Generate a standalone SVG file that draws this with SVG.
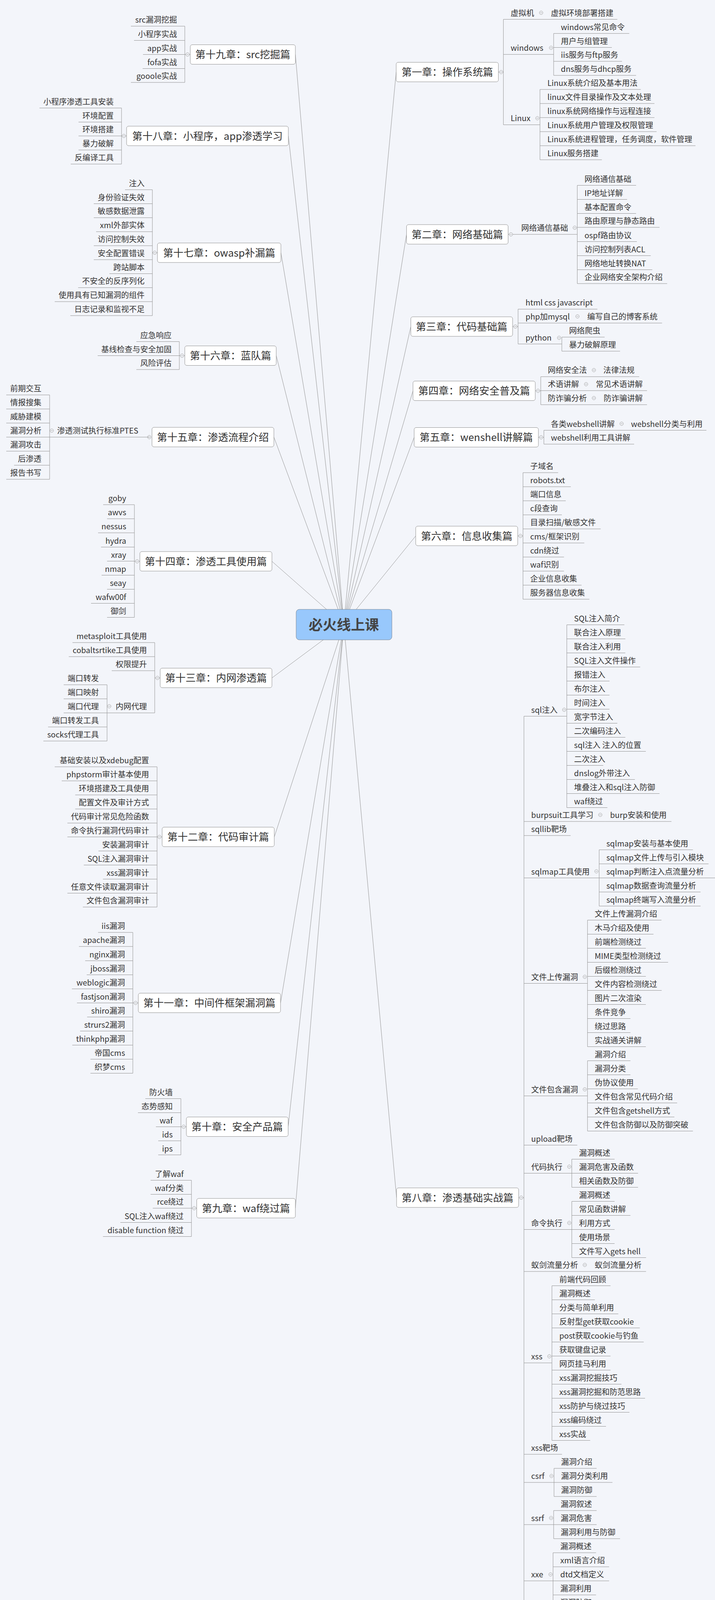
<svg xmlns="http://www.w3.org/2000/svg" width="1830" height="4423" viewBox="0 0 1830 4423">
<style>
.t{font-family:"Noto Sans CJK SC","Noto Sans",sans-serif;font-size:20px;fill:#333}
.e{text-anchor:end}
.u{stroke:#909090;stroke-width:1;fill:none}
.k{stroke:#939393;stroke-width:1;fill:none}
.b{fill:#fff;stroke:#8f8f8f;stroke-width:1}
.h{font-size:26px;text-anchor:middle}
.r{font-size:36px;font-weight:bold;fill:#444;text-anchor:middle}
</style>
<defs>
<g id="m"><circle r="4.5" fill="#f3f5fa" stroke="#a0a0a0"/><path d="M-2.5,0H2.5" stroke="#a0a0a0"/></g>
</defs>
<rect width="1830" height="4423" fill="#f3f5fa"/>
<g id="connectors" class="k">
<path d="M880,1599L756,139.5M880,1599L738,348M880,1599L719,647M880,1599L707,910.5M880,1599L701,1119M880,1599L696,1437M880,1599L696,1735.5M880,1599L702,2142.5M880,1599L718,2567.5M880,1599L737.5,2884.5M880,1599L756,3093M880,1599L1014,184.5M880,1599L1040.5,600M880,1599L1051.5,836M880,1599L1057,1000.5M880,1599L1060,1119.5M880,1599L1064,1372M880,1599L1015,3066"/>
<path d="M473,139.5H487M473,67V211M311,348H324M311,276.5V420M390,647H403M390,485.7V808M459,910.5H473M459,874.5V946M127,1011V1227M344,1437H358M344,1292V1580.5M396,1735.5H410M396,1645V1825M274,1753V1897M402,2142.5H415M402,1963V2322M340,2567.5H354M340,2387V2747.5M463,2884.5H477M463,2812.5V2956.5M490,3093H503.5M490,3021.5V3165.5"/>
<path d="M1275.6,184.5H1288.4M1288.4,49.5V319.4M1417,85.7V193M1382,229V409M1477.5,474.5V726M1312,836H1326M1326,791.4V880.6M1438,863V899M1370,1000.5H1384M1384,964.3V1036M1378,1119.5H1392M1392,1101.5V1137M1325,1372H1338.6M1338.6,1210V1534"/>
<path d="M1327.5,3066H1341M1341,1833.5V4299M1450.7,1599.5V2067.5M1533.5,2175.5V2319.5M1503.7,2355.5V2679.5M1503.7,2715.5V2895.5M1463.5,2967.5V3039.5M1463.5,3075.5V3219.5M1412.7,3291.5V3687.5M1418,3759V3831M1417,3867V3939M1415.5,3975V4119M1503.7,4191V4407"/>
</g>
<g id="root"><rect x="758" y="1560" width="245" height="78" rx="8" fill="#98c8fc" stroke="#7d8794"/><text class="t r" x="880" y="1613">必火线上课</text></g>

<g id="ch19"><rect class="b" x="487" y="114.5" width="269" height="50" rx="5"/><text class="t h" x="621.5" y="149">第十九章：src挖掘篇</text><use href="#m" x="480" y="139.5"/></g>
<g id="c19-1"><text class="t e" x="453" y="58">src漏洞挖掘</text><path class="u" d="M335,67H473"/></g>
<g id="c19-2"><text class="t e" x="453" y="94.5">小程序实战</text><path class="u" d="M343,103.5H473"/></g>
<g id="c19-3"><text class="t e" x="453" y="130.5">app实战</text><path class="u" d="M366,139.5H473"/></g>
<g id="c19-4"><text class="t e" x="453" y="166.5">fofa实战</text><path class="u" d="M365,175.5H473"/></g>
<g id="c19-5"><text class="t e" x="453" y="202">gooole实战</text><path class="u" d="M335,211H473"/></g>

<g id="ch18"><rect class="b" x="324" y="323" width="414" height="50" rx="5"/><text class="t h" x="531" y="357.5">第十八章：小程序，app渗透学习</text><use href="#m" x="317" y="348"/></g>
<g id="c18-1"><text class="t e" x="291" y="267.5">小程序渗透工具安装</text><path class="u" d="M101,276.5H311"/></g>
<g id="c18-2"><text class="t e" x="291" y="303.5">环境配置</text><path class="u" d="M201,312.5H311"/></g>
<g id="c18-3"><text class="t e" x="291" y="339">环境搭建</text><path class="u" d="M201,348H311"/></g>
<g id="c18-4"><text class="t e" x="291" y="375">暴力破解</text><path class="u" d="M201,384H311"/></g>
<g id="c18-5"><text class="t e" x="291" y="411">反编译工具</text><path class="u" d="M181,420H311"/></g>

<g id="ch17"><rect class="b" x="403" y="622" width="316" height="50" rx="5"/><text class="t h" x="561" y="656.5">第十七章：owasp补漏篇</text><use href="#m" x="396" y="647"/></g>
<g id="c17-1"><text class="t e" x="370" y="476.7">注入</text><path class="u" d="M320,485.7H390"/></g>
<g id="c17-2"><text class="t e" x="370" y="512.5">身份验证失效</text><path class="u" d="M240,521.5H390"/></g>
<g id="c17-3"><text class="t e" x="370" y="548.3">敏感数据泄露</text><path class="u" d="M240,557.3H390"/></g>
<g id="c17-4"><text class="t e" x="370" y="584.1">xml外部实体</text><path class="u" d="M246,593.1H390"/></g>
<g id="c17-5"><text class="t e" x="370" y="620">访问控制失效</text><path class="u" d="M240,629H390"/></g>
<g id="c17-6"><text class="t e" x="370" y="655.8">安全配置错误</text><path class="u" d="M240,664.8H390"/></g>
<g id="c17-7"><text class="t e" x="370" y="691.6">跨站脚本</text><path class="u" d="M280,700.6H390"/></g>
<g id="c17-8"><text class="t e" x="370" y="727.4">不安全的反序列化</text><path class="u" d="M200,736.4H390"/></g>
<g id="c17-9"><text class="t e" x="370" y="763.2">使用具有已知漏洞的组件</text><path class="u" d="M140,772.2H390"/></g>
<g id="c17-10"><text class="t e" x="370" y="799">日志记录和监视不足</text><path class="u" d="M180,808H390"/></g>

<g id="ch16"><rect class="b" x="473" y="885.5" width="234" height="50" rx="5"/><text class="t h" x="590" y="920">第十六章：蓝队篇</text><use href="#m" x="466" y="910.5"/></g>
<g id="c16-1"><text class="t e" x="439" y="865.5">应急响应</text><path class="u" d="M349,874.5H459"/></g>
<g id="c16-2"><text class="t e" x="439" y="901.5">基线检查与安全加固</text><path class="u" d="M250,910.5H459"/></g>
<g id="c16-3"><text class="t e" x="439" y="937">风险评估</text><path class="u" d="M349,946H459"/></g>

<g id="ch15"><rect class="b" x="389" y="1094" width="312" height="50" rx="5"/><text class="t h" x="545" y="1128.5">第十五章：渗透流程介绍</text><use href="#m" x="382" y="1119"/></g>
<g id="c15-1"><text class="t e" x="354" y="1110">渗透测试执行标准PTES</text><path class="u" d="M127,1119H382"/><use href="#m" x="132.5" y="1102.5"/></g>
<g id="c15-1-1"><text class="t e" x="106" y="1002">前期交互</text><path class="u" d="M16,1011H127"/></g>
<g id="c15-1-2"><text class="t e" x="106" y="1038">情报搜集</text><path class="u" d="M16,1047H127"/></g>
<g id="c15-1-3"><text class="t e" x="106" y="1074">威胁建模</text><path class="u" d="M16,1083H127"/></g>
<g id="c15-1-4"><text class="t e" x="106" y="1110">漏洞分析</text><path class="u" d="M16,1119H127"/></g>
<g id="c15-1-5"><text class="t e" x="106" y="1146">漏洞攻击</text><path class="u" d="M16,1155H127"/></g>
<g id="c15-1-6"><text class="t e" x="106" y="1182">后渗透</text><path class="u" d="M36,1191H127"/></g>
<g id="c15-1-7"><text class="t e" x="106" y="1218">报告书写</text><path class="u" d="M16,1227H127"/></g>

<g id="ch14"><rect class="b" x="358" y="1412" width="338" height="50" rx="5"/><text class="t h" x="527" y="1446.5">第十四章：渗透工具使用篇</text><use href="#m" x="351" y="1437"/></g>
<g id="c14-1"><text class="t e" x="323" y="1283">goby</text><path class="u" d="M264,1292H344"/></g>
<g id="c14-2"><text class="t e" x="323" y="1319">awvs</text><path class="u" d="M274,1328H344"/></g>
<g id="c14-3"><text class="t e" x="323" y="1355">nessus</text><path class="u" d="M251,1364H344"/></g>
<g id="c14-4"><text class="t e" x="323" y="1391.5">hydra</text><path class="u" d="M258.5,1400.5H344"/></g>
<g id="c14-5"><text class="t e" x="323" y="1427.5">xray</text><path class="u" d="M274,1436.5H344"/></g>
<g id="c14-6"><text class="t e" x="323" y="1463.5">nmap</text><path class="u" d="M260,1472.5H344"/></g>
<g id="c14-7"><text class="t e" x="323" y="1499.5">seay</text><path class="u" d="M274,1508.5H344"/></g>
<g id="c14-8"><text class="t e" x="323" y="1535.5">wafw00f</text><path class="u" d="M233,1544.5H344"/></g>
<g id="c14-9"><text class="t e" x="323" y="1571.5">御剑</text><path class="u" d="M274,1580.5H344"/></g>

<g id="ch13"><rect class="b" x="410" y="1710.5" width="286" height="50" rx="5"/><text class="t h" x="553" y="1745">第十三章：内网渗透篇</text><use href="#m" x="403" y="1735.5"/></g>
<g id="c13-1"><text class="t e" x="376" y="1636">metasploit工具使用</text><path class="u" d="M185.5,1645H396"/></g>
<g id="c13-2"><text class="t e" x="376" y="1672">cobaltsrtike工具使用</text><path class="u" d="M176,1681H396"/></g>
<g id="c13-3"><text class="t e" x="376" y="1708">权限提升</text><path class="u" d="M286,1717H396"/></g>
<g id="c13-4"><text class="t e" x="376" y="1816">内网代理</text><path class="u" d="M274,1825H396"/><use href="#m" x="279.5" y="1808"/></g>
<g id="c13-4-1"><text class="t e" x="253" y="1744">端口转发</text><path class="u" d="M163,1753H274"/></g>
<g id="c13-4-2"><text class="t e" x="253" y="1780">端口映射</text><path class="u" d="M163,1789H274"/></g>
<g id="c13-4-3"><text class="t e" x="253" y="1816">端口代理</text><path class="u" d="M163,1825H274"/></g>
<g id="c13-4-4"><text class="t e" x="253" y="1852">端口转发工具</text><path class="u" d="M123,1861H274"/></g>
<g id="c13-4-5"><text class="t e" x="253" y="1888">socks代理工具</text><path class="u" d="M111,1897H274"/></g>

<g id="ch12"><rect class="b" x="415" y="2117.5" width="287" height="50" rx="5"/><text class="t h" x="558.5" y="2152">第十二章：代码审计篇</text><use href="#m" x="408" y="2142.5"/></g>
<g id="c12-1"><text class="t e" x="381.5" y="1954">基础安装以及xdebug配置</text><path class="u" d="M140,1963H402"/></g>
<g id="c12-2"><text class="t e" x="381.5" y="1990">phpstorm审计基本使用</text><path class="u" d="M158,1999H402"/></g>
<g id="c12-3"><text class="t e" x="381.5" y="2026">环境搭建及工具使用</text><path class="u" d="M192.5,2035H402"/></g>
<g id="c12-4"><text class="t e" x="381.5" y="2062">配置文件及审计方式</text><path class="u" d="M192.5,2071H402"/></g>
<g id="c12-5"><text class="t e" x="381.5" y="2098">代码审计常见危险函数</text><path class="u" d="M172.5,2107H402"/></g>
<g id="c12-6"><text class="t e" x="381.5" y="2133.5">命令执行漏洞代码审计</text><path class="u" d="M172.5,2142.5H402"/></g>
<g id="c12-7"><text class="t e" x="381.5" y="2169.5">安装漏洞审计</text><path class="u" d="M252,2178.5H402"/></g>
<g id="c12-8"><text class="t e" x="381.5" y="2205.5">SQL注入漏洞审计</text><path class="u" d="M214.5,2214.5H402"/></g>
<g id="c12-9"><text class="t e" x="381.5" y="2241.5">xss漏洞审计</text><path class="u" d="M263.5,2250.5H402"/></g>
<g id="c12-10"><text class="t e" x="381.5" y="2277.5">任意文件读取漏洞审计</text><path class="u" d="M172.5,2286.5H402"/></g>
<g id="c12-11"><text class="t e" x="381.5" y="2313">文件包含漏洞审计</text><path class="u" d="M212,2322H402"/></g>

<g id="ch11"><rect class="b" x="354" y="2542.5" width="364" height="50" rx="5"/><text class="t h" x="536" y="2577">第十一章：中间件框架漏洞篇</text><use href="#m" x="347" y="2567.5"/></g>
<g id="c11-1"><text class="t e" x="320" y="2378">iis漏洞</text><path class="u" d="M251,2387H340"/></g>
<g id="c11-2"><text class="t e" x="320" y="2414">apache漏洞</text><path class="u" d="M202,2423H340"/></g>
<g id="c11-3"><text class="t e" x="320" y="2450.5">nginx漏洞</text><path class="u" d="M218,2459.5H340"/></g>
<g id="c11-4"><text class="t e" x="320" y="2486.5">jboss漏洞</text><path class="u" d="M222,2495.5H340"/></g>
<g id="c11-5"><text class="t e" x="320" y="2522.5">weblogic漏洞</text><path class="u" d="M184,2531.5H340"/></g>
<g id="c11-6"><text class="t e" x="320" y="2558.5">fastjson漏洞</text><path class="u" d="M197,2567.5H340"/></g>
<g id="c11-7"><text class="t e" x="320" y="2594.5">shiro漏洞</text><path class="u" d="M223,2603.5H340"/></g>
<g id="c11-8"><text class="t e" x="320" y="2630.5">strurs2漏洞</text><path class="u" d="M205,2639.5H340"/></g>
<g id="c11-9"><text class="t e" x="320" y="2666.5">thinkphp漏洞</text><path class="u" d="M185,2675.5H340"/></g>
<g id="c11-10"><text class="t e" x="320" y="2702.5">帝国cms</text><path class="u" d="M231.5,2711.5H340"/></g>
<g id="c11-11"><text class="t e" x="320" y="2738.5">织梦cms</text><path class="u" d="M231.5,2747.5H340"/></g>

<g id="ch10"><rect class="b" x="477" y="2859.5" width="260.5" height="50" rx="5"/><text class="t h" x="607" y="2894">第十章：安全产品篇</text><use href="#m" x="470" y="2884.5"/></g>
<g id="c10-1"><text class="t e" x="442" y="2803.5">防火墙</text><path class="u" d="M372,2812.5H463"/></g>
<g id="c10-2"><text class="t e" x="442" y="2839.5">态势感知</text><path class="u" d="M353,2848.5H463"/></g>
<g id="c10-3"><text class="t e" x="442" y="2875.5">waf</text><path class="u" d="M399,2884.5H463"/></g>
<g id="c10-4"><text class="t e" x="442" y="2911.5">ids</text><path class="u" d="M405,2920.5H463"/></g>
<g id="c10-5"><text class="t e" x="442" y="2947.5">ips</text><path class="u" d="M405,2956.5H463"/></g>

<g id="ch9"><rect class="b" x="503.5" y="3068" width="252.5" height="50" rx="5"/><text class="t h" x="629.5" y="3102.5">第九章：waf绕过篇</text><use href="#m" x="497" y="3093"/></g>
<g id="c9-1"><text class="t e" x="470" y="3012.5">了解waf</text><path class="u" d="M385.5,3021.5H490"/></g>
<g id="c9-2"><text class="t e" x="470" y="3048.5">waf分类</text><path class="u" d="M385.5,3057.5H490"/></g>
<g id="c9-3"><text class="t e" x="470" y="3084">rce绕过</text><path class="u" d="M391,3093H490"/></g>
<g id="c9-4"><text class="t e" x="470" y="3120.5">SQL注入waf绕过</text><path class="u" d="M308,3129.5H490"/></g>
<g id="c9-5"><text class="t e" x="470" y="3156.5">disable function 绕过</text><path class="u" d="M263.5,3165.5H490"/></g>

<g id="ch1"><rect class="b" x="1014" y="159.5" width="261.6" height="50" rx="5"/><text class="t h" x="1145" y="194">第一章：操作系统篇</text><use href="#m" x="1282.6" y="184.5"/></g>
<g id="c1-1"><text class="t" x="1307" y="40.5">虚拟机</text><path class="u" d="M1288.4,49.5H1398"/><use href="#m" x="1385" y="32.7"/></g>
<g id="c1-1-1"><text class="t" x="1410" y="40.5">虚拟环境部署搭建</text><path class="u" d="M1398,49.5H1580"/></g>
<g id="c1-2"><text class="t" x="1307" y="130.3">windows</text><path class="u" d="M1288.4,139.3H1417"/><use href="#m" x="1410.4" y="122.4"/></g>
<g id="c1-2-1"><text class="t" x="1435.5" y="76.7">windows常见命令</text><path class="u" d="M1417,85.7H1610.5"/></g>
<g id="c1-2-2"><text class="t" x="1435.5" y="112.5">用户与组管理</text><path class="u" d="M1417,121.5H1566"/></g>
<g id="c1-2-3"><text class="t" x="1435.5" y="148">iis服务与ftp服务</text><path class="u" d="M1417,157H1592"/></g>
<g id="c1-2-4"><text class="t" x="1435.5" y="184">dns服务与dhcp服务</text><path class="u" d="M1417,193H1628"/></g>
<g id="c1-3"><text class="t" x="1307" y="310.4">Linux</text><path class="u" d="M1288.4,319.4H1382"/><use href="#m" x="1375.4" y="302.6"/></g>
<g id="c1-3-1"><text class="t" x="1401" y="220">Linux系统介绍及基本用法</text><path class="u" d="M1382,229H1640"/></g>
<g id="c1-3-2"><text class="t" x="1401" y="256">linux文件目录操作及文本处理</text><path class="u" d="M1382,265H1675"/></g>
<g id="c1-3-3"><text class="t" x="1401" y="292">linux系统网络操作与远程连接</text><path class="u" d="M1382,301H1675"/></g>
<g id="c1-3-4"><text class="t" x="1401" y="328">Linux系统用户管理及权限管理</text><path class="u" d="M1382,337H1680.5"/></g>
<g id="c1-3-5"><text class="t" x="1401" y="364">Linux系统进程管理，任务调度，软件管理</text><path class="u" d="M1382,373H1780"/></g>
<g id="c1-3-6"><text class="t" x="1401" y="400">Linux服务搭建</text><path class="u" d="M1382,409H1540.5"/></g>

<g id="ch2"><rect class="b" x="1040.5" y="575" width="260" height="50" rx="5"/><text class="t h" x="1170.5" y="609.5">第二章：网络基础篇</text></g>
<g id="c2-1"><text class="t" x="1334" y="591">网络通信基础</text><path class="u" d="M1300.7,600H1477.5"/><use href="#m" x="1307.7" y="600"/><use href="#m" x="1471" y="583"/></g>
<g id="c2-1-1"><text class="t" x="1496" y="465.5">网络通信基础</text><path class="u" d="M1477.5,474.5H1628"/></g>
<g id="c2-1-2"><text class="t" x="1496" y="501.5">IP地址详解</text><path class="u" d="M1477.5,510.5H1605"/></g>
<g id="c2-1-3"><text class="t" x="1496" y="537.5">基本配置命令</text><path class="u" d="M1477.5,546.5H1628"/></g>
<g id="c2-1-4"><text class="t" x="1496" y="573">路由原理与静态路由</text><path class="u" d="M1477.5,582H1688"/></g>
<g id="c2-1-5"><text class="t" x="1496" y="609.5">ospf路由协议</text><path class="u" d="M1477.5,618.5H1630"/></g>
<g id="c2-1-6"><text class="t" x="1496" y="645.5">访问控制列表ACL</text><path class="u" d="M1477.5,654.5H1665.5"/></g>
<g id="c2-1-7"><text class="t" x="1496" y="681.5">网络地址转换NAT</text><path class="u" d="M1477.5,690.5H1669.5"/></g>
<g id="c2-1-8"><text class="t" x="1496" y="717">企业网络安全架构介绍</text><path class="u" d="M1477.5,726H1707.5"/></g>

<g id="ch3"><rect class="b" x="1051.5" y="811" width="260.5" height="50" rx="5"/><text class="t h" x="1181.5" y="845.5">第三章：代码基础篇</text><use href="#m" x="1319" y="836"/></g>
<g id="c3-1"><text class="t" x="1345" y="782.4">html css javascript</text><path class="u" d="M1326,791.4H1529"/></g>
<g id="c3-2"><text class="t" x="1345" y="818">php加mysql</text><path class="u" d="M1326,827H1490"/><use href="#m" x="1478" y="810"/></g>
<g id="c3-2-1"><text class="t" x="1503" y="818">编写自己的博客系统</text><path class="u" d="M1490,827H1694.5"/></g>
<g id="c3-3"><text class="t" x="1345" y="871.6">python</text><path class="u" d="M1326,880.6H1438"/><use href="#m" x="1431" y="864.8"/></g>
<g id="c3-3-1"><text class="t" x="1456.5" y="854">网络爬虫</text><path class="u" d="M1438,863H1547.5"/></g>
<g id="c3-3-2"><text class="t" x="1456.5" y="890">暴力破解原理</text><path class="u" d="M1438,899H1587"/></g>

<g id="ch4"><rect class="b" x="1057" y="975.5" width="313" height="50" rx="5"/><text class="t h" x="1213.5" y="1010">第四章：网络安全普及篇</text><use href="#m" x="1377" y="1000.5"/></g>
<g id="c4-1"><text class="t" x="1402" y="955.3">网络安全法</text><path class="u" d="M1384,964.3H1532"/><use href="#m" x="1520" y="947.5"/></g>
<g id="c4-1-1"><text class="t" x="1544" y="955.3">法律法规</text><path class="u" d="M1532,964.3H1636"/></g>
<g id="c4-2"><text class="t" x="1402" y="991">术语讲解</text><path class="u" d="M1384,1000H1512"/><use href="#m" x="1500" y="983.5"/></g>
<g id="c4-2-1"><text class="t" x="1525" y="991">常见术语讲解</text><path class="u" d="M1512,1000H1656"/></g>
<g id="c4-3"><text class="t" x="1402" y="1027">防诈骗分析</text><path class="u" d="M1384,1036H1532"/><use href="#m" x="1520" y="1019"/></g>
<g id="c4-3-1"><text class="t" x="1545" y="1027">防诈骗讲解</text><path class="u" d="M1532,1036H1656"/></g>

<g id="ch5"><rect class="b" x="1060" y="1094.5" width="318" height="50" rx="5"/><text class="t h" x="1219" y="1129">第五章：wenshell讲解篇</text><use href="#m" x="1385" y="1119.5"/></g>
<g id="c5-1"><text class="t" x="1410" y="1092.5">各类webshell讲解</text><path class="u" d="M1392,1101.5H1603"/><use href="#m" x="1591" y="1084.7"/></g>
<g id="c5-1-1"><text class="t" x="1615" y="1092.5">webshell分类与利用</text><path class="u" d="M1603,1101.5H1808"/></g>
<g id="c5-2"><text class="t" x="1410" y="1128">webshell利用工具讲解</text><path class="u" d="M1392,1137H1623"/></g>

<g id="ch6"><rect class="b" x="1064" y="1347" width="261" height="50" rx="5"/><text class="t h" x="1194.5" y="1381.5">第六章：信息收集篇</text><use href="#m" x="1332" y="1372"/></g>
<g id="c6-1"><text class="t" x="1357" y="1201">子域名</text><path class="u" d="M1338.6,1210H1428.5"/></g>
<g id="c6-2"><text class="t" x="1357" y="1237">robots.txt</text><path class="u" d="M1338.6,1246H1461"/></g>
<g id="c6-3"><text class="t" x="1357" y="1273">端口信息</text><path class="u" d="M1338.6,1282H1448"/></g>
<g id="c6-4"><text class="t" x="1357" y="1309">c段查询</text><path class="u" d="M1338.6,1318H1438"/></g>
<g id="c6-5"><text class="t" x="1357" y="1345">目录扫描/敏感文件</text><path class="u" d="M1338.6,1354H1537.5"/></g>
<g id="c6-6"><text class="t" x="1357" y="1381">cms/框架识别</text><path class="u" d="M1338.6,1390H1495.5"/></g>
<g id="c6-7"><text class="t" x="1357" y="1417">cdn绕过</text><path class="u" d="M1338.6,1426H1443.5"/></g>
<g id="c6-8"><text class="t" x="1357" y="1453">waf识别</text><path class="u" d="M1338.6,1462H1443.5"/></g>
<g id="c6-9"><text class="t" x="1357" y="1489">企业信息收集</text><path class="u" d="M1338.6,1498H1488.5"/></g>
<g id="c6-10"><text class="t" x="1357" y="1525">服务器信息收集</text><path class="u" d="M1338.6,1534H1508.5"/></g>

<g id="ch8"><rect class="b" x="1015" y="3041" width="312.5" height="50" rx="5"/><text class="t h" x="1171" y="3075.5">第八章：渗透基础实战篇</text><use href="#m" x="1334" y="3066"/></g>
<g id="c8-1"><text class="t" x="1359.6" y="1824.5">sql注入</text><path class="u" d="M1341,1833.5H1450.7"/><use href="#m" x="1444" y="1817"/></g>
<g id="c8-1-1"><text class="t" x="1469.3" y="1590.5">SQL注入简介</text><path class="u" d="M1450.7,1599.5H1598"/></g>
<g id="c8-1-2"><text class="t" x="1469.3" y="1626.5">联合注入原理</text><path class="u" d="M1450.7,1635.5H1600.5"/></g>
<g id="c8-1-3"><text class="t" x="1469.3" y="1662.5">联合注入利用</text><path class="u" d="M1450.7,1671.5H1600.5"/></g>
<g id="c8-1-4"><text class="t" x="1469.3" y="1698.5">SQL注入文件操作</text><path class="u" d="M1450.7,1707.5H1638.5"/></g>
<g id="c8-1-5"><text class="t" x="1469.3" y="1734.5">报错注入</text><path class="u" d="M1450.7,1743.5H1560"/></g>
<g id="c8-1-6"><text class="t" x="1469.3" y="1770.5">布尔注入</text><path class="u" d="M1450.7,1779.5H1560"/></g>
<g id="c8-1-7"><text class="t" x="1469.3" y="1806.5">时间注入</text><path class="u" d="M1450.7,1815.5H1560"/></g>
<g id="c8-1-8"><text class="t" x="1469.3" y="1842.5">宽字节注入</text><path class="u" d="M1450.7,1851.5H1580"/></g>
<g id="c8-1-9"><text class="t" x="1469.3" y="1878.5">二次编码注入</text><path class="u" d="M1450.7,1887.5H1600.5"/></g>
<g id="c8-1-10"><text class="t" x="1469.3" y="1914.5">sql注入 注入的位置</text><path class="u" d="M1450.7,1923.5H1653"/></g>
<g id="c8-1-11"><text class="t" x="1469.3" y="1950.5">二次注入</text><path class="u" d="M1450.7,1959.5H1544"/></g>
<g id="c8-1-12"><text class="t" x="1469.3" y="1986.5">dnslog外带注入</text><path class="u" d="M1450.7,1995.5H1625"/></g>
<g id="c8-1-13"><text class="t" x="1469.3" y="2022.5">堆叠注入和sql注入防御</text><path class="u" d="M1450.7,2031.5H1688"/></g>
<g id="c8-1-14"><text class="t" x="1469.3" y="2058.5">waf绕过</text><path class="u" d="M1450.7,2067.5H1554.5"/></g>
<g id="c8-2"><text class="t" x="1359.6" y="2094">burpsuit工具学习</text><path class="u" d="M1341,2103H1548.5"/><use href="#m" x="1536.4" y="2086"/></g>
<g id="c8-2-1"><text class="t" x="1561.5" y="2094">burp安装和使用</text><path class="u" d="M1548.5,2103H1718.5"/></g>
<g id="c8-3"><text class="t" x="1359.6" y="2130">sqllib靶场</text><path class="u" d="M1341,2139H1460.5"/></g>
<g id="c8-4"><text class="t" x="1359.6" y="2238.5">sqlmap工具使用</text><path class="u" d="M1341,2247.5H1533.5"/><use href="#m" x="1526.5" y="2230.6"/></g>
<g id="c8-4-1"><text class="t" x="1552" y="2166.5">sqlmap安装与基本使用</text><path class="u" d="M1533.5,2175.5H1773.5"/></g>
<g id="c8-4-2"><text class="t" x="1552" y="2202.5">sqlmap文件上传与引入模块</text><path class="u" d="M1533.5,2211.5H1813.5"/></g>
<g id="c8-4-3"><text class="t" x="1552" y="2238.5">sqlmap判断注入点流量分析</text><path class="u" d="M1533.5,2247.5H1830"/></g>
<g id="c8-4-4"><text class="t" x="1552" y="2274.5">sqlmap数据查询流量分析</text><path class="u" d="M1533.5,2283.5H1793"/></g>
<g id="c8-4-5"><text class="t" x="1552" y="2310.5">sqlmap终端写入流量分析</text><path class="u" d="M1533.5,2319.5H1793"/></g>
<g id="c8-5"><text class="t" x="1359.6" y="2508.5">文件上传漏洞</text><path class="u" d="M1341,2517.5H1503.7"/><use href="#m" x="1496.7" y="2500.7"/></g>
<g id="c8-5-1"><text class="t" x="1522" y="2346.5">文件上传漏洞介绍</text><path class="u" d="M1503.7,2355.5H1693"/></g>
<g id="c8-5-2"><text class="t" x="1522" y="2382.5">木马介绍及使用</text><path class="u" d="M1503.7,2391.5H1672.5"/></g>
<g id="c8-5-3"><text class="t" x="1522" y="2418.5">前端检测绕过</text><path class="u" d="M1503.7,2427.5H1653"/></g>
<g id="c8-5-4"><text class="t" x="1522" y="2454.5">MIME类型检测绕过</text><path class="u" d="M1503.7,2463.5H1710"/></g>
<g id="c8-5-5"><text class="t" x="1522" y="2490.5">后缀检测绕过</text><path class="u" d="M1503.7,2499.5H1653"/></g>
<g id="c8-5-6"><text class="t" x="1522" y="2526.5">文件内容检测绕过</text><path class="u" d="M1503.7,2535.5H1693.5"/></g>
<g id="c8-5-7"><text class="t" x="1522" y="2562.5">图片二次渲染</text><path class="u" d="M1503.7,2571.5H1653"/></g>
<g id="c8-5-8"><text class="t" x="1522" y="2598.5">条件竞争</text><path class="u" d="M1503.7,2607.5H1613.5"/></g>
<g id="c8-5-9"><text class="t" x="1522" y="2634.5">绕过思路</text><path class="u" d="M1503.7,2643.5H1613.5"/></g>
<g id="c8-5-10"><text class="t" x="1522" y="2670.5">实战通关讲解</text><path class="u" d="M1503.7,2679.5H1653"/></g>
<g id="c8-6"><text class="t" x="1359.6" y="2796.5">文件包含漏洞</text><path class="u" d="M1341,2805.5H1503.7"/><use href="#m" x="1496.7" y="2788.7"/></g>
<g id="c8-6-1"><text class="t" x="1522" y="2706.5">漏洞介绍</text><path class="u" d="M1503.7,2715.5H1613.5"/></g>
<g id="c8-6-2"><text class="t" x="1522" y="2742.5">漏洞分类</text><path class="u" d="M1503.7,2751.5H1613.5"/></g>
<g id="c8-6-3"><text class="t" x="1522" y="2778.5">伪协议使用</text><path class="u" d="M1503.7,2787.5H1632.5"/></g>
<g id="c8-6-4"><text class="t" x="1522" y="2814.5">文件包含常见代码介绍</text><path class="u" d="M1503.7,2823.5H1733"/></g>
<g id="c8-6-5"><text class="t" x="1522" y="2850.5">文件包含getshell方式</text><path class="u" d="M1503.7,2859.5H1726"/></g>
<g id="c8-6-6"><text class="t" x="1522" y="2886.5">文件包含防御以及防御突破</text><path class="u" d="M1503.7,2895.5H1773.5"/></g>
<g id="c8-7"><text class="t" x="1359.6" y="2922.5">upload靶场</text><path class="u" d="M1341,2931.5H1477.5"/></g>
<g id="c8-8"><text class="t" x="1359.6" y="2994.5">代码执行</text><path class="u" d="M1341,3003.5H1463.5"/><use href="#m" x="1457" y="2986.7"/></g>
<g id="c8-8-1"><text class="t" x="1482" y="2958.5">漏洞概述</text><path class="u" d="M1463.5,2967.5H1573"/></g>
<g id="c8-8-2"><text class="t" x="1482" y="2994.5">漏洞危害及函数</text><path class="u" d="M1463.5,3003.5H1633"/></g>
<g id="c8-8-3"><text class="t" x="1482" y="3030.5">相关函数及防御</text><path class="u" d="M1463.5,3039.5H1633"/></g>
<g id="c8-9"><text class="t" x="1359.6" y="3138.5">命令执行</text><path class="u" d="M1341,3147.5H1463.5"/><use href="#m" x="1457" y="3130.7"/></g>
<g id="c8-9-1"><text class="t" x="1482" y="3066.5">漏洞概述</text><path class="u" d="M1463.5,3075.5H1573"/></g>
<g id="c8-9-2"><text class="t" x="1482" y="3102.5">常见函数讲解</text><path class="u" d="M1463.5,3111.5H1613.5"/></g>
<g id="c8-9-3"><text class="t" x="1482" y="3138.5">利用方式</text><path class="u" d="M1463.5,3147.5H1573"/></g>
<g id="c8-9-4"><text class="t" x="1482" y="3174.5">使用场景</text><path class="u" d="M1463.5,3183.5H1573"/></g>
<g id="c8-9-5"><text class="t" x="1482" y="3210.5">文件写入gets hell</text><path class="u" d="M1463.5,3219.5H1653.5"/></g>
<g id="c8-10"><text class="t" x="1359.6" y="3246">蚁剑流量分析</text><path class="u" d="M1341,3255H1509"/><use href="#m" x="1496.7" y="3238.2"/></g>
<g id="c8-10-1"><text class="t" x="1522" y="3246">蚁剑流量分析</text><path class="u" d="M1509,3255H1653.5"/></g>
<g id="c8-11"><text class="t" x="1359.6" y="3480">xss</text><path class="u" d="M1341,3489H1412.7"/><use href="#m" x="1406" y="3472.2"/></g>
<g id="c8-11-1"><text class="t" x="1431.4" y="3282.5">前端代码回顾</text><path class="u" d="M1412.7,3291.5H1562.5"/></g>
<g id="c8-11-2"><text class="t" x="1431.4" y="3318.5">漏洞概述</text><path class="u" d="M1412.7,3327.5H1522.5"/></g>
<g id="c8-11-3"><text class="t" x="1431.4" y="3354.5">分类与简单利用</text><path class="u" d="M1412.7,3363.5H1582.5"/></g>
<g id="c8-11-4"><text class="t" x="1431.4" y="3390.5">反射型get获取cookie</text><path class="u" d="M1412.7,3399.5H1637.5"/></g>
<g id="c8-11-5"><text class="t" x="1431.4" y="3426.5">post获取cookie与钓鱼</text><path class="u" d="M1412.7,3435.5H1647.5"/></g>
<g id="c8-11-6"><text class="t" x="1431.4" y="3462.5">获取键盘记录</text><path class="u" d="M1412.7,3471.5H1562.5"/></g>
<g id="c8-11-7"><text class="t" x="1431.4" y="3498.5">网页挂马利用</text><path class="u" d="M1412.7,3507.5H1562.5"/></g>
<g id="c8-11-8"><text class="t" x="1431.4" y="3534.5">xss漏洞挖掘技巧</text><path class="u" d="M1412.7,3543.5H1590.5"/></g>
<g id="c8-11-9"><text class="t" x="1431.4" y="3570.5">xss漏洞挖掘和防范思路</text><path class="u" d="M1412.7,3579.5H1651"/></g>
<g id="c8-11-10"><text class="t" x="1431.4" y="3606.5">xss防护与绕过技巧</text><path class="u" d="M1412.7,3615.5H1611"/></g>
<g id="c8-11-11"><text class="t" x="1431.4" y="3642.5">xss编码绕过</text><path class="u" d="M1412.7,3651.5H1551"/></g>
<g id="c8-11-12"><text class="t" x="1431.4" y="3678.5">xss实战</text><path class="u" d="M1412.7,3687.5H1510.5"/></g>
<g id="c8-12"><text class="t" x="1359.6" y="3714">xss靶场</text><path class="u" d="M1341,3723H1438.5"/></g>
<g id="c8-13"><text class="t" x="1359.6" y="3786">csrf</text><path class="u" d="M1341,3795H1418"/><use href="#m" x="1411.5" y="3778.5"/></g>
<g id="c8-13-1"><text class="t" x="1436" y="3750">漏洞介绍</text><path class="u" d="M1418,3759H1527"/></g>
<g id="c8-13-2"><text class="t" x="1436" y="3786">漏洞分类利用</text><path class="u" d="M1418,3795H1567.5"/></g>
<g id="c8-13-3"><text class="t" x="1436" y="3822">漏洞防御</text><path class="u" d="M1418,3831H1527"/></g>
<g id="c8-14"><text class="t" x="1359.6" y="3894">ssrf</text><path class="u" d="M1341,3903H1417"/><use href="#m" x="1410.5" y="3886"/></g>
<g id="c8-14-1"><text class="t" x="1435" y="3858">漏洞叙述</text><path class="u" d="M1417,3867H1527"/></g>
<g id="c8-14-2"><text class="t" x="1435" y="3894">漏洞危害</text><path class="u" d="M1417,3903H1527"/></g>
<g id="c8-14-3"><text class="t" x="1435" y="3930">漏洞利用与防御</text><path class="u" d="M1417,3939H1587"/></g>
<g id="c8-15"><text class="t" x="1359.6" y="4038">xxe</text><path class="u" d="M1341,4047H1415.5"/><use href="#m" x="1409" y="4030.5"/></g>
<g id="c8-15-1"><text class="t" x="1434" y="3966">漏洞概述</text><path class="u" d="M1415.5,3975H1525.5"/></g>
<g id="c8-15-2"><text class="t" x="1434" y="4002">xml语言介绍</text><path class="u" d="M1415.5,4011H1559"/></g>
<g id="c8-15-3"><text class="t" x="1434" y="4038">dtd文档定义</text><path class="u" d="M1415.5,4047H1559"/></g>
<g id="c8-15-4"><text class="t" x="1434" y="4074">漏洞利用</text><path class="u" d="M1415.5,4083H1525.5"/></g>
<g id="c8-15-5"><text class="t" x="1434" y="4110">漏洞防御</text><path class="u" d="M1415.5,4119H1525.5"/></g>
<g id="c8-16"><text class="t" x="1359.6" y="4146">pikachu</text><path class="u" d="M1341,4155H1445.5"/></g>
<g id="c8-17"><text class="t" x="1359.6" y="4290">业务逻辑漏洞</text><path class="u" d="M1341,4299H1503.7"/><use href="#m" x="1496.7" y="4282"/></g>
<g id="c8-17-1"><text class="t" x="1522" y="4182">弱口令</text><path class="u" d="M1503.7,4191H1593.5"/></g>
<g id="c8-17-2"><text class="t" x="1522" y="4218">绕过验证类型</text><path class="u" d="M1503.7,4227H1653"/></g>
<g id="c8-17-3"><text class="t" x="1522" y="4254">越权</text><path class="u" d="M1503.7,4263H1573"/></g>
<g id="c8-17-4"><text class="t" x="1522" y="4290">未授权访问</text><path class="u" d="M1503.7,4299H1633"/></g>
<g id="c8-17-5"><text class="t" x="1522" y="4326">交易漏洞</text><path class="u" d="M1503.7,4335H1613.5"/></g>
<g id="c8-17-6"><text class="t" x="1522" y="4362">站点实践</text><path class="u" d="M1503.7,4371H1613.5"/></g>
<g id="c8-17-7"><text class="t" x="1522" y="4398">挖掘思路与业务场景</text><path class="u" d="M1503.7,4407H1713"/></g>
</svg>
